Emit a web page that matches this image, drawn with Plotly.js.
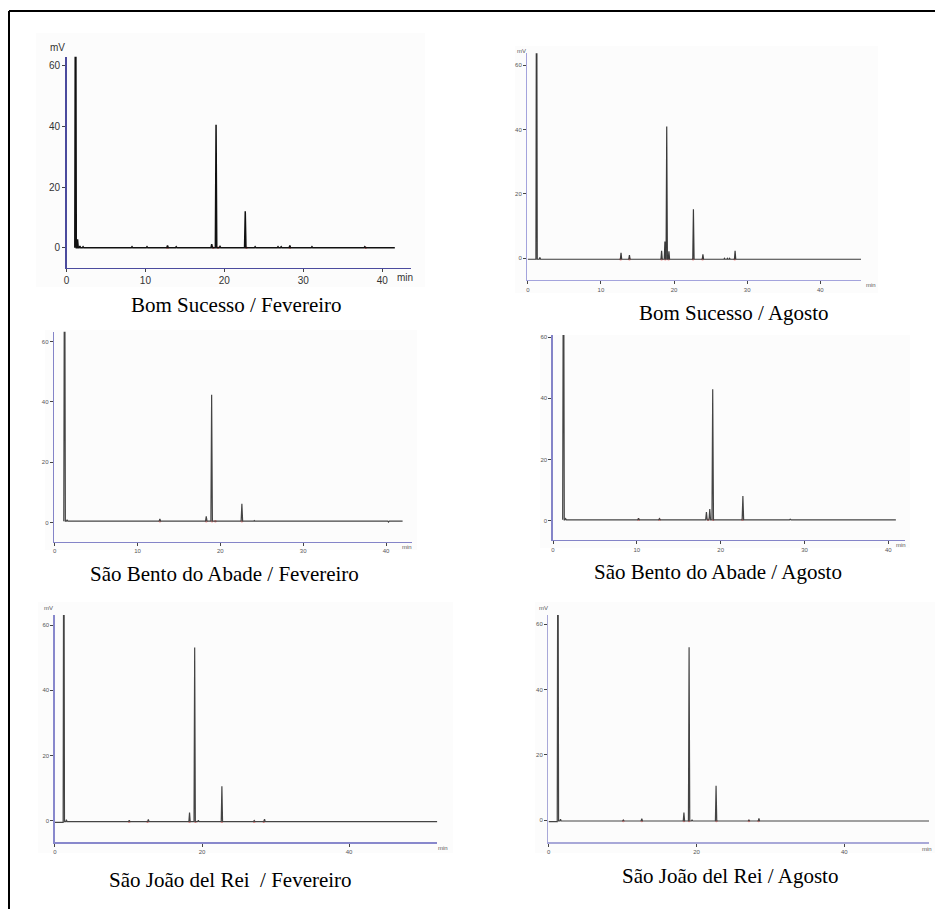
<!DOCTYPE html>
<html><head><meta charset="utf-8">
<script src="https://cdn.plot.ly/plotly-3.0.1.min.js"></script>
<style>html,body{margin:0;padding:0;background:#fff}#chart{width:935px;height:909px}</style>
</head><body><div id="chart"></div>
<script>
// ---------------- DATA ----------------
const captions = [
  "Bom Sucesso / Fevereiro",
  "Bom Sucesso / Agosto",
  "São Bento do Abade / Fevereiro",
  "São Bento do Abade / Agosto",
  "São João del Rei\u00A0 / Fevereiro",
  "São João del Rei / Agosto"
];
const yUnit = "mV";
const xUnit = "min";

// retention times (min) and peak heights above baseline (mV)
const bsFevRt = [1.15, 1.4, 1.7, 2.1, 8.3, 10.2, 12.8, 13.9, 18.4, 18.95, 19.45, 22.65, 23.9, 26.8, 27.2, 28.3, 31.1, 37.8];
const bsFevH  = [120, 2.8, 0.5, 0.3, 0.3, 0.3, 0.7, 0.3, 1.2, 40.5, 0.4, 12.0, 0.3, 0.3, 0.3, 0.7, 0.3, 0.3];
const bsFevMarks = [12.8, 18.6, 19.2, 22.8, 28.3, 37.9];

const bsAgoRt = [1.2, 1.65, 9.4, 12.75, 13.9, 16.3, 18.3, 18.75, 19.0, 19.3, 20.2, 20.6, 22.65, 23.95, 26.9, 27.3, 27.6, 28.35, 31.1, 37.9];
const bsAgoH  = [120, 0.6, 0.2, 2.0, 1.3, 0.2, 2.6, 5.5, 41.2, 2.5, 0.2, 0.2, 15.5, 1.5, 0.3, 0.3, 0.3, 2.6, 0.2, 0.2];
const bsAgoMarks = [12.7, 13.9, 18.3, 18.8, 19.25, 22.6, 23.9, 28.3];

const sbaFevRt = [1.2, 1.5, 4.6, 5.6, 12.7, 18.3, 18.95, 20.1, 22.6, 24.1, 26.9, 30.1, 40.3];
const sbaFevH  = [120, 0.5, 0.1, 0.1, 0.8, 1.6, 42.0, 0.2, 5.8, 0.2, 0.2, 0.2, -0.3];
const sbaFevMarks = [12.7, 18.3, 19.0, 19.4, 22.6];

const sbaAgoRt = [1.25, 1.5, 10.2, 12.7, 18.3, 18.7, 19.05, 22.65, 28.3];
const sbaAgoH  = [120, 0.4, 0.5, 0.4, 2.5, 3.5, 42.7, 7.8, 0.2];
const sbaAgoMarks = [10.2, 12.7, 18.5, 19.1, 22.6];

const sjrFevRt = [1.2, 1.55, 8.2, 10.1, 12.7, 18.3, 19.0, 19.5, 22.7, 26.6, 27.1, 28.5, 31.1, 36.3];
const sjrFevH  = [120, 0.6, 0.2, 0.4, 0.7, 2.8, 53.4, 0.4, 10.9, 0.2, 0.3, 0.8, 0.2, 0.2];
const sjrFevMarks = [10.1, 12.6, 18.3, 19.1, 22.7, 27.1, 28.4];

const sjrAgoRt = [1.25, 1.6, 8.2, 10.1, 12.6, 15.6, 18.3, 19.0, 19.4, 22.65, 26.6, 27.1, 28.45, 31.1, 35.8, 37.0];
const sjrAgoH  = [120, 0.5, 0.2, 0.3, 0.7, 0.2, 2.6, 53.3, 0.4, 10.8, 0.2, 0.3, 0.8, 0.2, 0.2, 0.2];
const sjrAgoMarks = [10.1, 12.6, 18.3, 19.0, 22.7, 27.1, 28.4];

// baseline level after / before the solvent peak, and run start / end (min)
const baseLevel = [0, -0.3, 0.4, 0.3, -0.3, -0.3];
const preLevel  = [0, -0.3, 0.4, 0.3, -0.5, -0.5];
const runStart  = [1.05, 0, 1.1, 1.15, 0, 0];
const runEnd    = [41.6, 45.6, 42.0, 40.9, 52.0, 51.5];

const yTicks = [0, 20, 40, 60];
const xTicksA = [0, 10, 20, 30, 40];
const xTicksB = [0, 20, 40];

// ---------------- LAYOUT / STYLE ----------------
const W = 935, H = 909;
const peakRt = [bsFevRt, bsAgoRt, sbaFevRt, sbaAgoRt, sjrFevRt, sjrAgoRt];
const peakH  = [bsFevH, bsAgoH, sbaFevH, sbaAgoH, sjrFevH, sjrAgoH];
const marks  = [bsFevMarks, bsAgoMarks, sbaFevMarks, sbaAgoMarks, sjrFevMarks, sjrAgoMarks];

// pixel geometry of each panel (axis box), axis ranges and styles
const panels = [
  {L:66.5, R:411, T:56.7, B:267.7, xr:[0,43.65], yr:[-6.59,62.97], xt:xTicksA, fs:10, tc:'#333', lc:'#4b4b9e', lw:1.5, trc:'#111', trw:1.5,
   bg:[36,33,425,287], mv:[57,47], mn:[405,277], mnAnchor:'center', cap:[236.5,305]},
  {L:527.3, R:861, T:53.3, B:280, xr:[-0.07,45.57], yr:[-6.74,63.66], xt:xTicksA, fs:6, tc:'#555', lc:'#a3a3dc', lw:1.3, trc:'#3a3a3a', trw:1.2,
   bg:[515,46,878,293], mv:[521.7,50.7], mn:[870.7,285], mnAnchor:'center', cap:[734,313]},
  {L:54, R:411.7, T:331.7, B:541.7, xr:[-0.08,43.1], yr:[-6.4,63.32], xt:xTicksA, fs:6, tc:'#555', lc:'#8484c8', lw:1.3, trc:'#444', trw:1.2,
   bg:[45,330,417,550], mv:null, mn:[407,546.7], mnAnchor:'center', cap:[224.5,574]},
  {L:552.7, R:905, T:335, B:540, xr:[-0.04,41.99], yr:[-6.31,60.69], xt:xTicksA, fs:6, tc:'#555', lc:'#8484c8', lw:1.3, trc:'#444', trw:1.2,
   bg:[540,335,910,548], mv:null, mn:[900.7,545], mnAnchor:'center', cap:[718.3,571.7]},
  {L:54.7, R:437.3, T:615, B:842.3, xr:[-0.04,52.0], yr:[-6.63,63.1], xt:xTicksB, fs:6, tc:'#555', lc:'#8888cc', lw:1.3, trc:'#444', trw:1.2,
   bg:[38,602,453,853], mv:[48.3,608.3], mn:[442.7,847.7], mnAnchor:'center', cap:[230,880]},
  {L:548.3, R:929, T:615, B:842.3, xr:[-0.05,51.46], yr:[-6.84,62.88], xt:xTicksB, fs:6, tc:'#555', lc:'#a8a8d8', lw:1.3, trc:'#444', trw:1.2,
   bg:[535,602,935,853], mv:[543.3,608.3], mn:[933.5,849], mnAnchor:'right', cap:[730.3,876]}
];

const HW = 0.09; // drawn half-width of a peak (min)
function buildRun(rt, h, base, pre, t0, t1) {
  const x = [t0], y = [pre];
  rt.forEach((r, i) => {
    const b = i === 0 ? pre : base;
    x.push(r - HW, r, r + HW);
    y.push(b, base + h[i], base);
  });
  x.push(t1); y.push(base);
  return {x, y};
}

const px = v => v / W;
const py = v => 1 - v / H;

const traces = [];
const layout = {
  width: W, height: H,
  margin: {l:0, r:0, t:0, b:0, pad:0},
  paper_bgcolor: '#ffffff',
  plot_bgcolor: 'rgba(0,0,0,0)',
  showlegend: false,
  shapes: [],
  annotations: []
};

panels.forEach((p, i) => {
  const k = i === 0 ? '' : String(i + 1);
  const run = buildRun(peakRt[i], peakH[i], baseLevel[i], preLevel[i], runStart[i], runEnd[i]);
  traces.push({
    type: 'scatter', mode: 'markers', x: marks[i], y: marks[i].map(() => baseLevel[i]),
    xaxis: 'x' + k, yaxis: 'y' + k,
    marker: {color: 'rgba(235,40,40,0.55)', size: 2.5}, hoverinfo: 'skip'
  });
  traces.push({
    type: 'scatter', mode: 'lines', x: run.x, y: run.y,
    xaxis: 'x' + k, yaxis: 'y' + k,
    line: {color: p.trc, width: p.trw}, hoverinfo: 'skip'
  });
  const tickfont = {family: 'Liberation Sans, Arial, sans-serif', size: p.fs, color: p.tc};
  layout['xaxis' + k] = {
    domain: [px(p.L), px(p.R)], range: p.xr, anchor: 'y' + k,
    showline: true, linecolor: p.lc, linewidth: p.lw,
    showgrid: false, zeroline: false,
    tickmode: 'array', tickvals: p.xt, ticktext: p.xt.map(String),
    ticks: 'outside', ticklen: 3, tickcolor: '#444', tickwidth: 1,
    tickfont: tickfont, fixedrange: true
  };
  layout['yaxis' + k] = {
    domain: [py(p.B), py(p.T)], range: p.yr, anchor: 'x' + k,
    showline: true, linecolor: p.lc, linewidth: p.lw,
    showgrid: false, zeroline: false,
    tickmode: 'array', tickvals: yTicks, ticktext: yTicks.map(String),
    ticks: 'outside', ticklen: 3, tickcolor: '#444', tickwidth: 1,
    tickfont: tickfont, fixedrange: true
  };
  layout.shapes.push({
    type: 'rect', xref: 'paper', yref: 'paper', layer: 'below',
    x0: px(p.bg[0]), x1: px(p.bg[2]), y0: py(p.bg[3]), y1: py(p.bg[1]),
    fillcolor: '#fcfcfc', line: {width: 0}
  });
  if (p.mv) layout.annotations.push({
    xref: 'paper', yref: 'paper', x: px(p.mv[0]), y: py(p.mv[1]),
    text: yUnit, showarrow: false, xanchor: 'center', yanchor: 'middle',
    font: {family: 'Liberation Sans, Arial, sans-serif', size: p.fs, color: p.tc}
  });
  layout.annotations.push({
    xref: 'paper', yref: 'paper', x: px(p.mn[0]), y: py(p.mn[1]),
    text: xUnit, showarrow: false, xanchor: p.mnAnchor, yanchor: 'middle',
    font: {family: 'Liberation Sans, Arial, sans-serif', size: p.fs, color: p.tc}
  });
  layout.annotations.push({
    xref: 'paper', yref: 'paper', x: px(p.cap[0]), y: py(p.cap[1]),
    text: captions[i], showarrow: false, xanchor: 'center', yanchor: 'middle',
    font: {family: 'Liberation Serif, Times New Roman, serif', size: 21, color: '#000'}
  });
});

// outer frame (top and left edges visible in the picture)
layout.shapes.push({type: 'line', xref: 'paper', yref: 'paper', x0: px(9), x1: px(935), y0: py(11), y1: py(11), line: {color: '#000', width: 2}});
layout.shapes.push({type: 'line', xref: 'paper', yref: 'paper', x0: px(9), x1: px(9), y0: py(11), y1: py(909), line: {color: '#000', width: 2}});

Plotly.newPlot('chart', traces, layout, {displayModeBar: false, staticPlot: true});
</script>
</body></html>
